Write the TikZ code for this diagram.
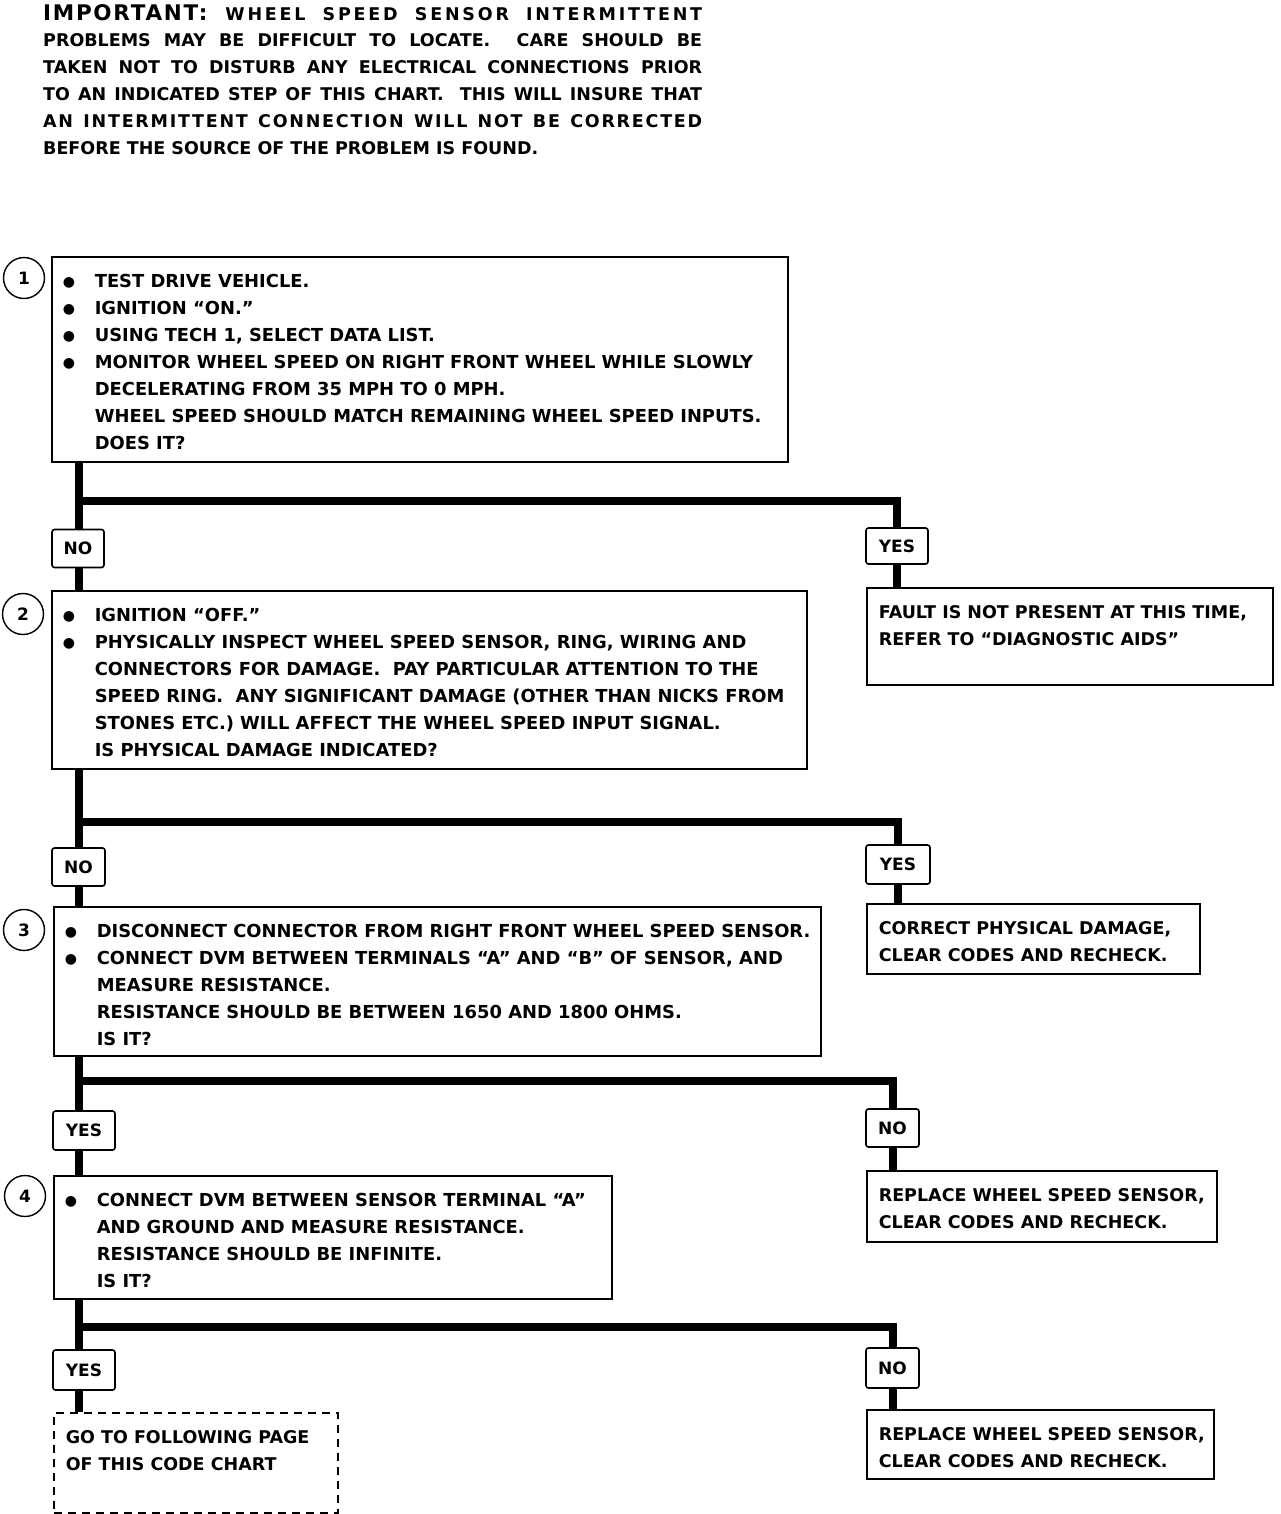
\documentclass[tikz,border=0pt]{standalone}
\usepackage{fontspec}
\setmainfont{DejaVu Sans}
\newfontfamily\spacedfont{DejaVu Sans}[LetterSpace=10]
\newfontfamily\widefont{DejaVu Sans}[LetterSpace=16]
\newfontfamily\impfont{DejaVu Sans}[LetterSpace=8]
\usetikzlibrary{positioning}

% text helpers
\newcommand{\bul}{\makebox[32pt][l]{\raisebox{1pt}{\fontsize{14}{14}\selectfont ●}}}
\newcommand{\itm}[1]{\mbox{\bul#1}}
\newcommand{\cnt}[1]{\mbox{\hspace*{32pt}#1}}
\newcommand{\resline}[1]{\mbox{#1}}
\newcommand{\fullline}[1]{\makebox[659pt][s]{#1}}
\newcommand{\boxtext}[3]{\parbox[c][#2][t]{#1}{\raggedright\rule{0pt}{31pt}#3}}

\begin{document}
\begin{tikzpicture}[x=1pt,y=-1pt,
    stepbox/.style={draw,line width=1.6pt,anchor=north west,inner xsep=11pt,inner ysep=0pt,
      font=\fontsize{17.9}{27}\selectfont\bfseries},
    resbox/.style={stepbox,inner xsep=12pt,font=\fontsize{17.5}{27}\selectfont\bfseries},
    answer/.style={draw,line width=1.6pt,rounded corners=2.5pt,inner sep=0pt,minimum height=38pt,
      font=\fontsize{17}{17}\selectfont\bfseries},
    stepno/.style={draw,circle,line width=1.4pt,minimum size=41pt,inner sep=0pt,
      font=\fontsize{17}{17}\selectfont\bfseries},
    link/.style={line width=8pt},
    branch/.style={to path={-| (\tikztotarget)}}]
  \useasboundingbox (0,0) rectangle (1280,1514);

  % warning text
  \node[anchor=north west,inner sep=0pt,font=\fontsize{17.5}{26.8}\selectfont\bfseries] (note) at (43,0)
    {\parbox[t]{659pt}{\rule{0pt}{20pt}%
      \fullline{{\impfont\fontsize{21.5}{26.8}\selectfont IMPORTANT:}\hspace{18pt}{\widefont WHEEL SPEED SENSOR INTERMITTENT}}\\
      \fullline{PROBLEMS MAY BE DIFFICULT TO LOCATE. \ CARE SHOULD BE}\\
      \fullline{TAKEN NOT TO DISTURB ANY ELECTRICAL CONNECTIONS PRIOR}\\
      \fullline{TO AN INDICATED STEP OF THIS CHART. \ THIS WILL INSURE THAT}\\
      \fullline{\spacedfont AN INTERMITTENT CONNECTION WILL NOT BE CORRECTED}\\
      BEFORE THE SOURCE OF THE PROBLEM IS FOUND.}};

  % steps
  \node[stepbox] (box1) at (51,256) {\boxtext{714pt}{205pt}{%
    \itm{TEST DRIVE VEHICLE.}\\
    \itm{IGNITION “ON.”}\\
    \itm{USING TECH 1, SELECT DATA LIST.}\\
    \itm{MONITOR WHEEL SPEED ON RIGHT FRONT WHEEL WHILE SLOWLY}\\
    \cnt{DECELERATING FROM 35 MPH TO 0 MPH.}\\
    \cnt{WHEEL SPEED SHOULD MATCH REMAINING WHEEL SPEED INPUTS.}\\
    \cnt{DOES IT?}}};
  \node[stepbox] (box2) at (51,590) {\boxtext{733pt}{178pt}{%
    \itm{IGNITION “OFF.”}\\
    \itm{PHYSICALLY INSPECT WHEEL SPEED SENSOR, RING, WIRING AND}\\
    \cnt{CONNECTORS FOR DAMAGE. \ PAY PARTICULAR ATTENTION TO THE}\\
    \cnt{SPEED RING. \ ANY SIGNIFICANT DAMAGE (OTHER THAN NICKS FROM}\\
    \cnt{STONES ETC.) WILL AFFECT THE WHEEL SPEED INPUT SIGNAL.}\\
    \cnt{IS PHYSICAL DAMAGE INDICATED?}}};
  \node[stepbox] (box3) at (53,906) {\boxtext{745pt}{149pt}{%
    \itm{DISCONNECT CONNECTOR FROM RIGHT FRONT WHEEL SPEED SENSOR.}\\
    \itm{CONNECT DVM BETWEEN TERMINALS “A” AND “B” OF SENSOR, AND}\\
    \cnt{MEASURE RESISTANCE.}\\
    \cnt{RESISTANCE SHOULD BE BETWEEN 1650 AND 1800 OHMS.}\\
    \cnt{IS IT?}}};
  \node[stepbox] (box4) at (53,1175) {\boxtext{536pt}{123pt}{%
    \itm{CONNECT DVM BETWEEN SENSOR TERMINAL “A”}\\
    \cnt{AND GROUND AND MEASURE RESISTANCE.}\\
    \cnt{RESISTANCE SHOULD BE INFINITE.}\\
    \cnt{IS IT?}}};

  \node[stepno] (c1) at (24,278) {1};
  \node[stepno] (c2) at (23,614) {2};
  \node[stepno] (c3) at (24,930) {3};
  \node[stepno] (c4) at (25,1196) {4};

  % results
  \node[resbox] (res1) at (866,587) {\boxtext{382pt}{97pt}{%
    \resline{FAULT IS NOT PRESENT AT THIS TIME,}\\ \resline{REFER TO “DIAGNOSTIC AIDS”}}};
  \node[resbox] (res2) at (866,903) {\boxtext{309pt}{70pt}{%
    \resline{CORRECT PHYSICAL DAMAGE,}\\ \resline{CLEAR CODES AND RECHECK.}}};
  \node[resbox] (res3) at (866,1170) {\boxtext{326pt}{71pt}{%
    \resline{REPLACE WHEEL SPEED SENSOR,}\\ \resline{CLEAR CODES AND RECHECK.}}};
  \node[resbox] (res4) at (866,1409) {\boxtext{323pt}{69pt}{%
    \resline{REPLACE WHEEL SPEED SENSOR,}\\ \resline{CLEAR CODES AND RECHECK.}}};
  \node[resbox,dash pattern=on 8pt off 6pt] (goto) at (53,1412) {\boxtext{260pt}{100pt}{%
    \resline{GO TO FOLLOWING PAGE}\\ \resline{OF THIS CODE CHART}}};

  % answers
  \node[answer,minimum width=52pt] (no1) at (78,548.5) {NO};
  \node[answer,minimum width=62pt,minimum height=36pt] (yes1) at (897,546) {YES};
  \node[answer,minimum width=53pt] (no2) at (78.5,867) {NO};
  \node[answer,minimum width=64pt,minimum height=39pt] (yes2) at (898,864.5) {YES};
  \node[answer,minimum width=62pt,minimum height=39pt] (yes3) at (84,1130.5) {YES};
  \node[answer,minimum width=53pt] (no3) at (892.5,1128) {NO};
  \node[answer,minimum width=62pt,minimum height=40pt] (yes4) at (84,1370) {YES};
  \node[answer,minimum width=53pt,minimum height=40pt] (no4) at (892.5,1368) {NO};

  \coordinate (j1) at (79,501);
  \coordinate (j2) at (79,822);
  \coordinate (j3) at (79,1081);
  \coordinate (j4) at (79,1327);

  \path[link]
  (box1.south -| j1) edge (no1.north -| j1)
  (no1.south -| j1) edge (box2.north -| j1)
  (j1) edge[branch] (yes1.north)
  (yes1.south) edge (res1.north -| yes1.south)

  (box2.south -| j2) edge (no2.north -| j2)
  (no2.south -| j2) edge (box3.north -| j2)
  (j2) edge[branch] (yes2.north)
  (yes2.south) edge (res2.north -| yes2.south)

  (box3.south -| j3) edge (yes3.north -| j3)
  (yes3.south -| j3) edge (box4.north -| j3)
  (j3) edge[branch] (no3.north)
  (no3.south) edge (res3.north -| no3.south)

  (box4.south -| j4) edge (yes4.north -| j4)
  (yes4.south -| j4) edge (goto.north -| j4)
  (j4) edge[branch] (no4.north)
  (no4.south) edge (res4.north -| no4.south)
  ;
\end{tikzpicture}
\end{document}
